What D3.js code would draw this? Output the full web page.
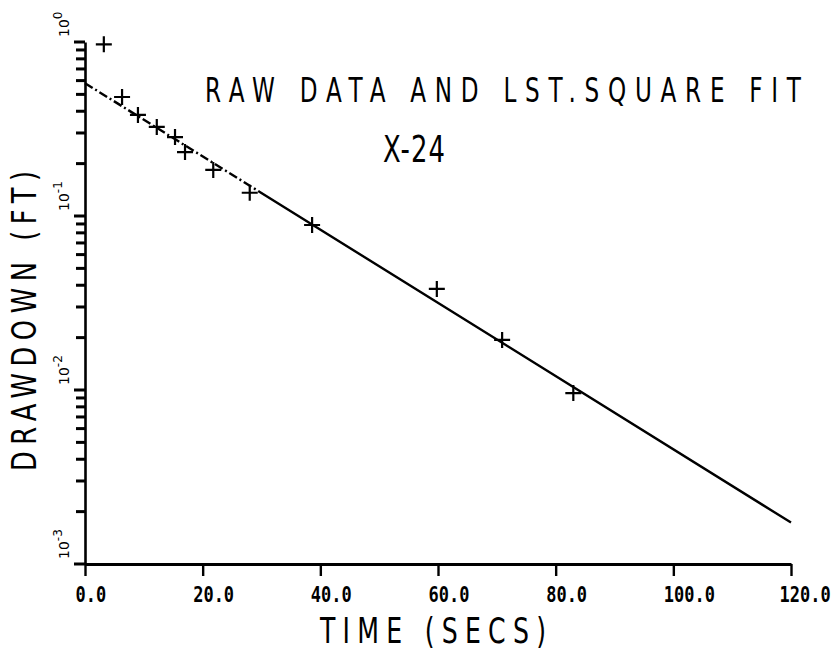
<!DOCTYPE html>
<html>
<head>
<meta charset="utf-8">
<script src="https://cdn.jsdelivr.net/npm/d3@7"></script>
<style>
  html, body { margin: 0; padding: 0; background: #fff; }
  svg { display: block; }
</style>
</head>
<body>
<svg id="chart" width="837" height="658"></svg>
<script>
// ---- data ----
const timeSecs   = [3.2, 6.3, 9.0, 12.2, 15.3, 17.0, 21.8, 28.0, 38.6, 59.8, 70.9, 83.0];
const drawdownFt = [0.97, 0.483, 0.381, 0.325, 0.284, 0.233, 0.184, 0.136, 0.0888, 0.0381, 0.0194, 0.0096];
const fitTime     = [0, 120];
const fitDrawdown = [0.58, 0.00173];
const xTickValues = [0, 20, 40, 60, 80, 100, 120];
const xTickLabels = ["0.0", "20.0", "40.0", "60.0", "80.0", "100.0", "120.0"];
const yMajorTicks = [1, 0.1, 0.01, 0.001];
const yTickExponents = ["0", "-1", "-2", "-3"];
const titleText = "RAW DATA AND LST.SQUARE FIT";
const subtitleText = "X-24";
const xLabel = "TIME  (SECS)";
const yLabel = "DRAWDOWN (FT)";

// ---- layout ----
const svg = d3.select("#chart");
const x = d3.scaleLinear().domain([0, 120]).range([85, 791]);
const y = d3.scaleLog().domain([1e-3, 1]).range([564, 42]);
const font = "'DejaVu Sans', sans-serif";

// x axis
const xAxis = d3.axisBottom(x)
  .tickValues(xTickValues)
  .tickSizeInner(12)
  .tickSizeOuter(0)
  .tickPadding(12)
  .tickFormat((d, i) => xTickLabels[i]);
const gx = svg.append("g").attr("transform", `translate(0,${y(1e-3)})`).call(xAxis);
gx.select(".domain").attr("stroke", "#000").attr("stroke-width", 3);
gx.selectAll(".tick line").attr("stroke", "#000").attr("stroke-width", 2.4);
gx.selectAll(".tick text")
  .attr("font-family", "'DejaVu Sans Mono', monospace")
  .attr("font-weight", "bold")
  .attr("font-size", 17)
  .attr("fill", "#000")
  .attr("text-anchor", "start")
  .attr("transform", "scale(1,1.2)")
  .attr("x", (d, i) => i === xTickLabels.length - 1 ? -12 : -10)
  .attr("dy", null)
  .attr("y", 31.7);

// y axis line
const yAxis = d3.axisLeft(y).tickValues([]).tickSizeOuter(0);
const gy = svg.append("g").attr("transform", `translate(${x(0)},0)`).call(yAxis);
gy.select(".domain").attr("stroke", "#000").attr("stroke-width", 2.6);

// y ticks: decades and minors from the log scale (drawn as small filled rects)
const yTicksAll = y.ticks();
const isMajor = d => yMajorTicks.some(m => Math.abs(Math.log10(m) - Math.log10(d)) < 1e-9);
svg.append("g").selectAll("rect.ytick")
  .data(yTicksAll)
  .join("rect")
  .attr("class", "ytick")
  .attr("x", d => x(0) - (isMajor(d) ? 11 : 9))
  .attr("width", d => (isMajor(d) ? 11 : 9))
  .attr("y", d => y(d) - 1.5)
  .attr("height", 3)
  .attr("fill", "#000");

// y tick labels (rotated, 10^n)
yMajorTicks.forEach((v, i) => {
  const t = svg.append("text")
    .attr("transform", `translate(69,${y(v) - 5}) rotate(-90)`)
    .attr("font-family", font)
    .attr("font-size", 14)
    .attr("fill", "#000")
    .attr("text-anchor", "start");
  t.append("tspan").text("10");
  t.append("tspan").attr("dy", -7).attr("font-size", 12).text(yTickExponents[i]);
});

// fit line
const line = d3.line().x(d => x(d[0])).y(d => y(d[1]));
const fitPts = fitTime.map((t, i) => [t, fitDrawdown[i]]);
const dashStart = Array(12).fill("9,3,2,3").join(",") + ",4000";
svg.append("path")
  .datum(fitPts)
  .attr("d", line)
  .attr("fill", "none")
  .attr("stroke", "#000")
  .attr("stroke-width", 2.4)
  .attr("stroke-dasharray", dashStart);

// data crosses
const pts = timeSecs.map((t, i) => [t, drawdownFt[i]]);
const hs = 8;
svg.append("g").selectAll("path.cross")
  .data(pts)
  .join("path")
  .attr("class", "cross")
  .attr("d", d => {
    const cx = x(d[0]), cy = y(d[1]);
    return `M${cx - hs},${cy}H${cx + hs}M${cx},${cy - hs}V${cy + hs}`;
  })
  .attr("stroke", "#000")
  .attr("stroke-width", 2.2)
  .attr("fill", "none");

// titles (narrow plotter-style lettering)
function plotText(str, tx, ty, size, len, rot, sx) {
  svg.append("text")
    .attr("transform", `translate(${tx},${ty})${rot ? " rotate(-90)" : ""} scale(${sx},1)`)
    .attr("font-family", font)
    .attr("font-size", size)
    .attr("fill", "#000")
    .attr("text-anchor", "start")
    .attr("textLength", len / sx)
    .attr("lengthAdjust", "spacing")
    .text(str);
}
plotText(titleText, 205, 102, 34, 596, false, 0.68);
plotText(subtitleText, 383, 162, 37, 62, false, 0.7);
plotText(xLabel, 320, 643, 35, 226, false, 0.72);
plotText(yLabel, 36, 471, 33, 300, true, 0.78);
</script>
</body>
</html>
